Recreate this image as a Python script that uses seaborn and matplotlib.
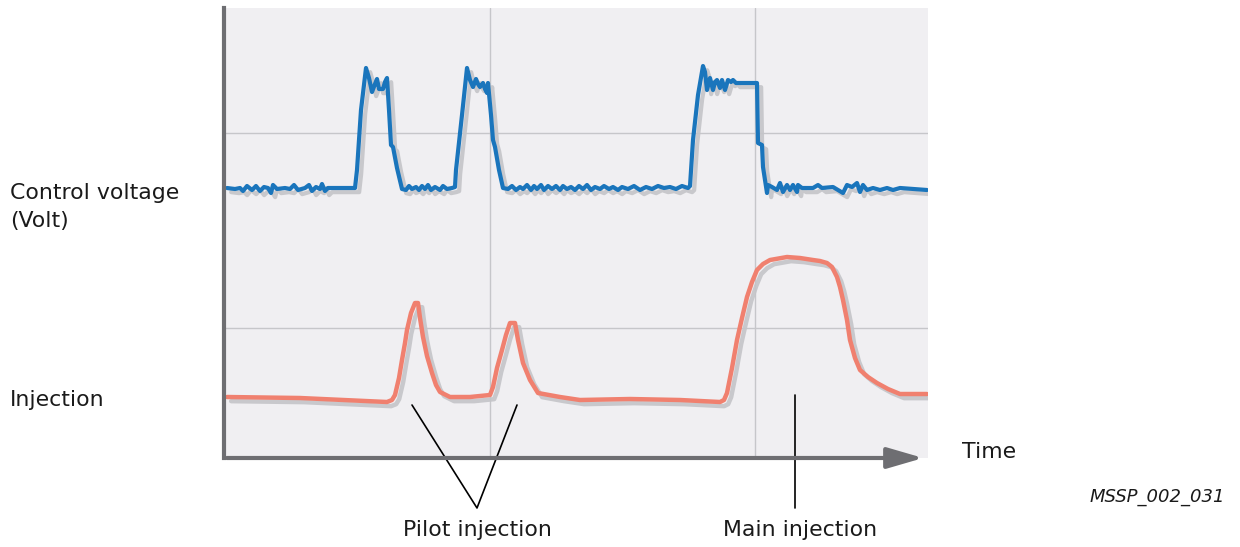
import matplotlib
matplotlib.use("Agg")
import matplotlib.pyplot as plt
import matplotlib.patheffects as pe
from matplotlib.patches import FancyArrowPatch
import pandas as pd
import seaborn as sns

# Values (time units, signal level; level axis points down)
blue_time = [227, 235, 240, 243, 247, 252, 256, 260, 264, 268, 271, 273, 277, 285, 290, 294, 298, 305,
             309, 312, 316, 320, 322, 325, 328, 340, 355,
             357, 361, 366, 369, 372, 375, 377, 379, 383, 385, 387, 389, 391, 393, 397, 402,
             406, 409, 412, 416, 419, 422, 425, 428, 431, 435, 440, 443, 447, 452, 455,
             456, 462, 467, 470, 473, 476, 478, 480, 483, 485, 487, 488, 491, 493, 495, 499, 503,
             508, 512, 516, 520, 523, 527, 531, 534, 537, 541, 544, 548, 552, 556, 560, 563, 567,
             571, 575, 579, 583, 587, 591, 595, 600, 604, 609, 613, 618, 622, 628, 634, 640, 646,
             652, 658, 664, 670, 676, 682, 688, 690,
             693, 698, 703, 705, 707, 710, 713, 715, 717, 720, 722, 725, 728, 731, 733, 736, 740,
             757, 758, 762, 763, 767,
             768, 772, 777, 780, 783, 787, 790, 793, 797, 798, 802, 813, 818, 822, 833, 843, 847,
             852, 857, 860, 863, 867, 873, 880, 887, 893, 900, 927]
blue_level = [188, 189, 188, 191, 186, 190, 186, 191, 187, 188, 193, 185, 189, 188, 189, 185, 190, 188,
              185, 191, 187, 189, 184, 191, 188, 188, 188,
              170, 110, 68, 78, 92, 84, 79, 89, 89, 82, 78, 110, 145, 147, 168, 189,
              190, 186, 189, 187, 190, 186, 189, 185, 190, 187, 190, 186, 189, 188, 187,
              170, 115, 68, 80, 87, 79, 84, 87, 83, 89, 93, 83, 115, 140, 147, 170, 188,
              189, 186, 190, 187, 189, 185, 190, 186, 189, 185, 190, 186, 189, 186, 190, 186, 189,
              187, 190, 186, 189, 185, 190, 187, 189, 186, 189, 187, 190, 187, 189, 186, 190, 187,
              189, 186, 188, 187, 189, 186, 188, 186,
              140, 95, 66, 72, 90, 78, 90, 82, 80, 88, 80, 90, 80, 82, 80, 83, 83,
              83, 143, 145, 167, 193,
              185, 187, 190, 183, 192, 185, 190, 185, 192, 185, 188, 188, 185, 188, 187, 193, 185,
              187, 183, 192, 185, 190, 188, 190, 188, 190, 188, 190]

red_time = [227, 300, 387, 392, 395, 399, 402, 405, 407, 411, 415, 418, 420, 423, 427, 432, 436, 440,
            450, 470, 490, 493, 497, 502, 506, 510, 515, 518, 523, 530, 538, 560, 580,
            630, 680, 720, 724, 727, 732, 737, 742, 747, 752, 757, 763, 770, 787, 800, 813, 820,
            827, 832, 837, 840, 843, 847, 850, 855, 860, 868, 877, 888, 900, 927]
red_level = [397, 398, 402, 400, 395, 378, 360, 343, 330, 313, 303, 303, 318, 337, 356, 373, 385, 392,
             397, 397, 395, 387, 368, 350, 335, 323, 323, 340, 363, 380, 393, 397, 400,
             399, 400, 402, 400, 393, 368, 340, 318, 297, 282, 270, 264, 260, 257, 258, 260, 261,
             263, 267, 277, 287, 300, 320, 340, 358, 370, 377, 383, 389, 394, 394]

row_labels = ["Control voltage\n(Volt)", "Injection"]
pilot_label = "Pilot injection"
main_label = "Main injection"
axis_label = "Time"
ref_code = "MSSP_002_031"

blue_df = pd.DataFrame({"time": blue_time, "level": blue_level})
red_df = pd.DataFrame({"time": red_time, "level": red_level})

sns.set_style("white")
plt.rcParams["font.family"] = ["DejaVu Sans"]
plt.rcParams["text.color"] = "#1a1a1a"

W, H = 1240, 547
fig = plt.figure(figsize=(W / 100, H / 100), dpi=100)
ax = fig.add_axes([224 / W, 1 - 458 / H, 704 / W, 450 / H])
ax.set_facecolor("#f0eff2")
ax.set_xlim(224, 928)
ax.set_ylim(458, 8)

# light grid
for gx in [490, 755]:
    ax.axvline(gx, color="#c6c6ca", lw=1, zorder=0)
for gy in [133, 328]:
    ax.axhline(gy, color="#c6c6ca", lw=1, zorder=0)

shadow = [pe.SimpleLineShadow(offset=(3, -3), shadow_color="#c4c4c8", alpha=0.9), pe.Normal()]

sns.lineplot(data=blue_df, x="time", y="level", ax=ax, sort=False, estimator=None,
             color="#1a75bc", lw=3, path_effects=shadow)
sns.lineplot(data=red_df, x="time", y="level", ax=ax, sort=False, estimator=None,
             color="#f0806f", lw=3.2, path_effects=shadow)

ax.set_xlabel("")
ax.set_ylabel("")
ax.set_xticks([])
ax.set_yticks([])
for s in ["top", "right", "bottom"]:
    ax.spines[s].set_visible(False)
ax.spines["left"].set_color("#6e6e72")
ax.spines["left"].set_linewidth(3)

# time axis arrow
arrow = FancyArrowPatch((224, 458), (926, 458), arrowstyle="-|>,head_length=1.1,head_width=0.32",
                        mutation_scale=20, color="#6e6e72", lw=3, clip_on=False, zorder=5)
ax.add_patch(arrow)

# callout lines
ax.plot([412, 477, 517], [405, 508, 405], color="black", lw=1.2, clip_on=False)
ax.plot([795, 795], [395, 508], color="black", lw=1.2, clip_on=False)

def px(x, y):
    return x / W, 1 - y / H

fs = 15.8
fig.text(*px(10, 207), row_labels[0], fontsize=fs, va="center", ha="left", linespacing=1.5)
fig.text(*px(10, 400), row_labels[1], fontsize=fs, va="center", ha="left")
fig.text(*px(962, 452), axis_label, fontsize=fs, va="center", ha="left")
fig.text(*px(1225, 497), ref_code, fontsize=13, va="center", ha="right", style="italic")
fig.text(*px(477, 530), pilot_label, fontsize=fs, va="center", ha="center")
fig.text(*px(800, 530), main_label, fontsize=fs, va="center", ha="center")

fig.savefig("out.png", dpi=100, facecolor="white")
